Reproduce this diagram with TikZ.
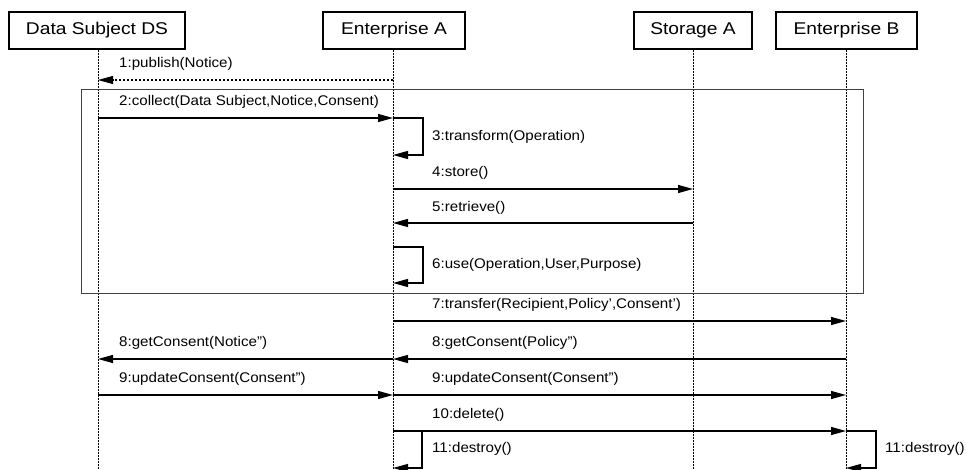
\documentclass[tikz,border=0pt]{standalone}
\usepackage{fontspec}
\setmainfont{Liberation Sans}
\newfontfamily\capfont{Liberation Sans}[FakeStretch=1.13]
\newfontfamily\lblfont{Liberation Sans}[FakeStretch=1.08]
\usetikzlibrary{arrows.meta}
\begin{document}
\begin{tikzpicture}[x=1pt,y=-1pt,
  actor/.style={draw,line width=1.3pt,minimum height=37pt,inner sep=0pt,font=\capfont\fontsize{17}{20}\selectfont},
  lifeline/.style={line width=0.8pt,dash pattern=on 2pt off 1pt},
  msg/.style={line width=1.2pt,-{Triangle[length=15pt,width=8pt]}},
  rmsg/.style={line width=1.1pt,dash pattern=on 2.5pt off 1.5pt,-{Triangle[length=15pt,width=8pt]}},
  lbl/.style={anchor=west,inner sep=0pt,font=\lblfont\fontsize{14}{16}\selectfont},
  frame/.style={draw=black!75,line width=0.9pt}]
\useasboundingbox (0,0) rectangle (966,470);
% actors
\node[actor,minimum width=176pt] (ds) at (97,30.5) {Data Subject DS};
\node[actor,minimum width=142pt] (ea) at (394,30.5) {Enterprise A};
\node[actor,minimum width=118pt] (sa) at (693,30.5) {Storage A};
\node[actor,minimum width=141pt] (eb) at (846.5,30.5) {Enterprise B};
% lifeline ends
\coordinate (dsE) at (98,470);
\coordinate (eaE) at (393,470);
\coordinate (saE) at (693,470);
\coordinate (ebE) at (846,470);
\draw[lifeline] (ds.south -| dsE) -- (dsE);
\draw[lifeline] (ea.south -| eaE) -- (eaE);
\draw[lifeline] (sa.south -| saE) -- (saE);
\draw[lifeline] (eb.south -| ebE) -- (ebE);
% frame
\draw[frame] (81,89) rectangle (863,293);
% 1
\draw[rmsg] (eaE |- 0,80) -- (dsE |- 0,80);
\node[lbl] (l1) at (119,64) {1:publish(Notice)};
% 2
\draw[msg] (dsE |- 0,118) -- (eaE |- 0,118);
\node[lbl] (l2) at (119,102) {2:collect(Data Subject,Notice,Consent)};
% 3
\draw[msg] (eaE |- 0,118) -- (423,118) -- (423,155) -- (eaE |- 0,155);
\node[lbl] (l3) at (432,137) {3:transform(Operation)};
% 4
\draw[msg] (eaE |- 0,189) -- (saE |- 0,189);
\node[lbl] (l4) at (432,173) {4:store()};
% 5
\draw[msg] (saE |- 0,223) -- (eaE |- 0,223);
\node[lbl] (l5) at (432,208) {5:retrieve()};
% 6
\draw[msg] (eaE |- 0,247) -- (423,247) -- (423,283) -- (eaE |- 0,283);
\node[lbl] (l6) at (432,265) {6:use(Operation,User,Purpose)};
% 7
\draw[msg] (eaE |- 0,321) -- (ebE |- 0,321);
\node[lbl] (l7) at (432,305) {7:transfer(Recipient,Policy’,Consent’)};
% 8
\draw[msg] (ebE |- 0,359) -- (eaE |- 0,359);
\node[lbl] (l8b) at (432,343) {8:getConsent(Policy”)};
\draw[msg] (eaE |- 0,359) -- (dsE |- 0,359);
\node[lbl] (l8a) at (119,343) {8:getConsent(Notice”)};
% 9
\draw[msg] (dsE |- 0,395) -- (eaE |- 0,395);
\node[lbl] (l9a) at (119,379) {9:updateConsent(Consent”)};
\draw[msg] (eaE |- 0,395) -- (ebE |- 0,395);
\node[lbl] (l9b) at (432,379) {9:updateConsent(Consent”)};
% 10
\draw[msg] (eaE |- 0,431) -- (ebE |- 0,431);
\node[lbl] (l10) at (432,415) {10:delete()};
% 11
\draw[msg] (eaE |- 0,431) -- (422,431) -- (422,468) -- (eaE |- 0,468);
\node[lbl] (l11a) at (432,449) {11:destroy()};
\draw[msg] (ebE |- 0,431) -- (876,431) -- (876,468) -- (ebE |- 0,468);
\node[lbl] (l11b) at (885,449) {11:destroy()};
\end{tikzpicture}
\end{document}
